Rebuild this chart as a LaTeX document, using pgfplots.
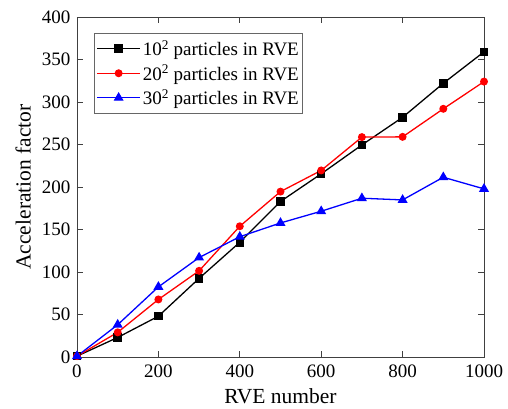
\documentclass[border=0pt]{standalone}
\usepackage{pgfplots}
\pgfplotsset{compat=1.18}
\usepackage{fontspec}
\setmainfont{Liberation Serif}
\begin{document}
\begin{tikzpicture}
\begin{axis}[
  scale only axis,
  width=407pt, height=340pt,
  xmin=0, xmax=1000, ymin=0, ymax=400,
  xtick={0,200,...,1000}, ytick={0,50,...,400},
  tick align=inside,
  major tick length=6pt,
  tick style={black!75, line width=0.8pt},
  axis line style={black!75, line width=0.9pt},
  /pgf/number format/assume math mode=true,
  /pgf/number format/1000 sep={},
  ticklabel style={font=\fontsize{19}{19}\selectfont},
  xticklabel style={yshift=-4pt},
  yticklabel style={xshift=-3pt},
  xlabel={RVE number}, ylabel={Acceleration factor},
  label style={font=\fontsize{21.5}{21.5}\selectfont},
  xlabel style={at={(axis description cs:0.5,0)}, anchor=north, inner sep=0pt, yshift=-31pt},
  ylabel style={at={(axis description cs:0,0.5)}, anchor=south, inner sep=0pt, yshift=46pt},
  legend style={at={(0.042,0.953)}, anchor=north west, draw=black!60, line width=0.8pt,
    font=\fontsize{19}{19}\selectfont, inner xsep=2pt, inner ysep=5pt, row sep=4pt,
    nodes={inner sep=2pt},
    /tikz/every even column/.append style={column sep=1pt}},
  legend cell align=left,
  legend image code/.code={
    \draw[mark repeat=2,mark phase=2] plot coordinates {(0pt,0pt) (21.5pt,0pt) (43pt,0pt)};},
]
\addplot[black, line width=1.3pt, mark=square*, mark size=3.6pt] coordinates {
(0,1) (100,23) (200,48) (300,92.5) (400,135) (500,183) (600,215.5) (700,249.5) (800,282) (900,322) (1000,359)};
\addlegendentry{10\textsuperscript{2} particles in RVE}
\addplot[red, line width=1.3pt, mark=*, mark size=3.3pt] coordinates {
(0,1) (100,29) (200,67.7) (300,101.4) (400,153.8) (500,194.6) (600,219.5) (700,258.7) (800,259) (900,292) (1000,324)};
\addlegendentry{20\textsuperscript{2} particles in RVE}
\addplot[blue, line width=1.3pt, mark=triangle*, mark size=4.5pt] coordinates {
(0,1) (100,38) (200,82.5) (300,117) (400,141.5) (500,157.7) (600,171.5) (700,186.8) (800,184.8) (900,211.5) (1000,197.8)};
\addlegendentry{30\textsuperscript{2} particles in RVE}
\end{axis}
\pgfresetboundingbox
\path[use as bounding box] (current axis.south west) ++(-77pt,-51pt) rectangle ++(508pt,408pt);
\end{tikzpicture}
\end{document}
